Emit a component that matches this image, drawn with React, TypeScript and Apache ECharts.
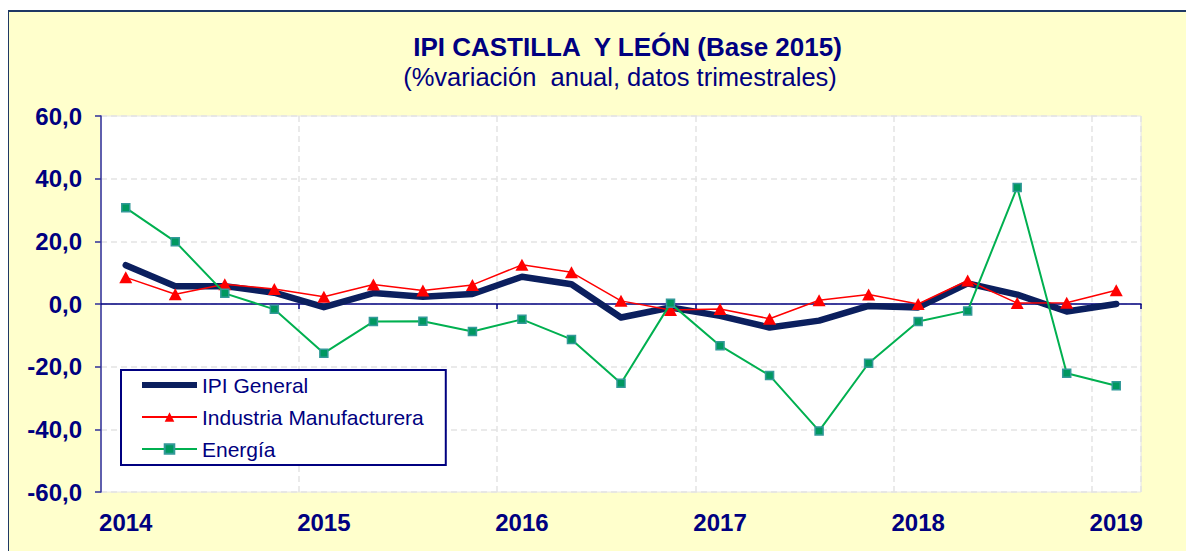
import React, { useEffect, useRef } from "react";
import * as echarts from "echarts";

const quarters = [
  "2014 T1", "2014 T2", "2014 T3", "2014 T4",
  "2015 T1", "2015 T2", "2015 T3", "2015 T4",
  "2016 T1", "2016 T2", "2016 T3", "2016 T4",
  "2017 T1", "2017 T2", "2017 T3", "2017 T4",
  "2018 T1", "2018 T2", "2018 T3", "2018 T4",
  "2019 T1",
];

const ipiGeneral = [
  12.4, 5.7, 5.7, 3.6, -1.0, 3.5, 2.3, 3.2, 8.7, 6.3, -4.3, -1.1, -3.8, -7.5,
  -5.3, -0.6, -1.1, 6.6, 3.0, -2.4, 0.0,
];

const industria = [
  8.5, 3.1, 6.3, 4.8, 2.3, 6.2, 4.3, 6.1, 12.5, 10.1, 1.0, -1.9, -1.6, -4.7,
  1.2, 3.0, 0.0, 7.5, 0.3, 0.4, 4.4,
];

const energia = [
  30.7, 19.9, 3.4, -1.7, -15.7, -5.6, -5.5, -8.8, -4.9, -11.3, -25.3, 0.2,
  -13.3, -22.8, -40.5, -18.9, -5.6, -2.2, 37.2, -22.1, -26.1,
];

const seriesNames = ["IPI General", "Industria Manufacturera", "Energía"];
const titleText = "IPI CASTILLA  Y LEÓN (Base 2015)";
const subtitleText = "(%variación  anual, datos trimestrales)";

const NAVY = "#000080";
const FONT = 'Arial, "Liberation Sans", Helvetica, sans-serif';

export default function App() {
  const ref = useRef<HTMLDivElement>(null);

  useEffect(() => {
    if (!ref.current) return;
    const chart = echarts.init(ref.current, null, { renderer: "svg" });
    const yearTickFn = (i: number) => i > 0 && i % 4 === 0;
    chart.setOption({
      animation: false,
      backgroundColor: "transparent",
      textStyle: { fontFamily: FONT },
      graphic: [
        {
          type: "text",
          x: 619.5,
          y: 38.5,
          style: {
            text: titleText,
            fill: NAVY,
            font: `bold 26px ${FONT}`,
            textAlign: "center",
            textVerticalAlign: "middle",
          },
        },
        {
          type: "text",
          x: 612,
          y: 69,
          style: {
            text: subtitleText,
            fill: NAVY,
            font: `25.5px ${FONT}`,
            textAlign: "center",
            textVerticalAlign: "middle",
          },
        },
      ],
      legend: {
        orient: "vertical",
        left: 113,
        top: 362,
        padding: [3, 22, 4, 20],
        itemWidth: 55,
        itemHeight: 12,
        itemGap: 8,
        backgroundColor: "#FFFFFF",
        borderColor: NAVY,
        borderWidth: 2,
        borderRadius: 0,
        data: [
          { name: seriesNames[0], icon: "path://M0,0 L55,0 L55,6 L0,6 Z" },
          { name: seriesNames[1] },
          { name: seriesNames[2] },
        ],
        textStyle: {
          color: NAVY,
          fontSize: 21,
          fontFamily: FONT,
          lineHeight: 24,
        },
      },
      grid: {
        left: 93,
        right: 53,
        top: 108,
        bottom: 59,
        show: true,
        backgroundColor: "#FFFFFF",
        borderColor: "#E6E6E6",
        borderWidth: 1,
      },
      xAxis: [
        {
          type: "category",
          data: quarters,
          boundaryGap: true,
          position: "bottom",
          axisLine: { show: false, onZero: false },
          axisTick: { show: false },
          axisLabel: {
            interval: 3,
            margin: 18,
            color: NAVY,
            fontWeight: "bold",
            fontSize: 24,
            fontFamily: FONT,
            formatter: (v: string) => v.slice(0, 4),
          },
          splitLine: {
            show: true,
            interval: yearTickFn,
            lineStyle: { color: "#E3E3E3", type: [6, 4], width: 1.5 },
          },
        },
        {
          type: "category",
          data: quarters,
          boundaryGap: true,
          position: "top",
          axisLine: { show: true, onZero: true, lineStyle: { color: NAVY, width: 1.5 } },
          axisTick: { show: true, inside: true, interval: yearTickFn, length: 5, lineStyle: { color: NAVY, width: 1.5 } },
          axisLabel: { show: false },
          splitLine: { show: false },
        },
      ],
      yAxis: {
        type: "value",
        min: -60,
        max: 60,
        interval: 20,
        axisLine: { show: true, lineStyle: { color: "#2E2E9A", width: 1.5 } },
        axisTick: { show: true, length: 6, lineStyle: { color: "#2E2E9A", width: 1.5 } },
        axisLabel: {
          margin: 19,
          color: NAVY,
          fontWeight: "bold",
          fontSize: 24,
          fontFamily: FONT,
          formatter: (v: number) => v.toFixed(1).replace(".", ","),
        },
        splitLine: {
          show: true,
          lineStyle: { color: "#E3E3E3", type: [6, 4], width: 1.5 },
        },
      },
      series: [
        {
          name: seriesNames[0],
          type: "line",
          data: ipiGeneral,
          symbol: "none",
          lineStyle: { color: "#0B1F5E", width: 6.5, cap: "round", join: "round" },
          itemStyle: { color: "#0B1F5E" },
          z: 2,
        },
        {
          name: seriesNames[1],
          type: "line",
          data: industria,
          symbol: "triangle",
          symbolSize: [13, 12],
          lineStyle: { color: "#FF0000", width: 1.5 },
          itemStyle: { color: "#FF0000", borderWidth: 0 },
          z: 3,
        },
        {
          name: seriesNames[2],
          type: "line",
          data: energia,
          symbol: "rect",
          symbolSize: 8,
          lineStyle: { color: "#00B050", width: 2 },
          itemStyle: { color: "#009860", borderColor: "#339999", borderWidth: 1.5 },
          z: 4,
        },
      ],
    });
    return () => chart.dispose();
  }, []);

  return (
    <div style={{ position: "relative", width: 1186, height: 543, overflow: "hidden" }}>
      <div
        style={{
          position: "absolute",
          left: 0,
          top: 2,
          width: 1300,
          height: 700,
          background: "#FFFFCC",
          borderLeft: "1.5px solid #1F3864",
          borderTop: "2px solid #1F3864",
        }}
      />
      <div ref={ref} style={{ position: "absolute", left: 0, top: 0, width: 1186, height: 543 }} />
    </div>
  );
}
